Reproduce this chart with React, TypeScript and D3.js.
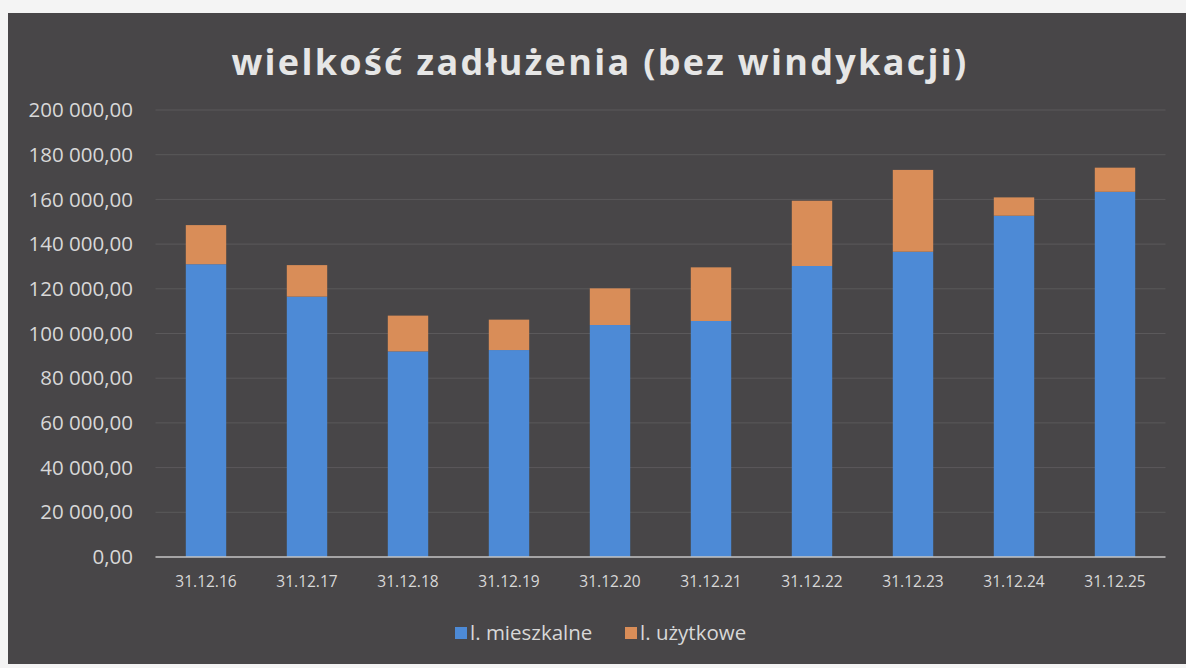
import React from "react";
import * as d3 from "d3";

const categories = ["31.12.16", "31.12.17", "31.12.18", "31.12.19", "31.12.20", "31.12.21", "31.12.22", "31.12.23", "31.12.24", "31.12.25"];
const mieszkalne = [131000, 116500, 92000, 92600, 103800, 105600, 130200, 136600, 152700, 163400];
const uzytkowe = [17500, 14100, 16000, 13600, 16400, 24000, 29200, 36600, 8200, 10800];
const yTicks = [0, 20000, 40000, 60000, 80000, 100000, 120000, 140000, 160000, 180000, 200000];
const seriesNames = ["l. mieszkalne", "l. użytkowe"];
const colors = ["#4d8ad6", "#d98d58"];

const W = 1186, H = 668;
const left = 155.5, right = 1165.5, top = 110, bottom = 557;

const fmt = (v: number) => {
  const s = Math.round(v).toString().replace(/\B(?=(\d{3})+(?!\d))/g, " ");
  return s + ",00";
};

export default function App() {
  const x = d3.scaleBand<string>().domain(categories).range([left, right]).paddingInner(0.6).paddingOuter(0.3);
  const y = d3.scaleLinear().domain([0, 200000]).range([bottom, top]);
  const font = "'Open Sans', sans-serif";
  const txt = "#d8d8d8";
  const legendX = [455, 625];
  return (
    <svg width={W} height={H} style={{ position: "absolute", left: 0, top: 0 }} fontFamily={font}>
      <rect x={0} y={0} width={W} height={H} fill="#f4f4f4" />
      <rect x={8} y={13} width={W - 8} height={651} fill="#484648" />
      <text x={600} y={75} textAnchor="middle" fill="#e6e6e6" fontSize={36} fontWeight="bold" letterSpacing={2.3}>
        wielkość zadłużenia (bez windykacji)
      </text>
      {yTicks.map((t) => (
        <g key={t}>
          {t > 0 && <line x1={left} x2={right} y1={y(t)} y2={y(t)} stroke="#5b595b" strokeWidth={1} />}
          <text x={133} y={y(t)} dy="0.35em" textAnchor="end" fill={txt} fontSize={20.5}>
            {fmt(t)}
          </text>
        </g>
      ))}
      {categories.map((c, i) => {
        const b = x(c)!;
        const w = x.bandwidth();
        const v1 = mieszkalne[i];
        const v2 = uzytkowe[i];
        return (
          <g key={c}>
            <rect x={b} width={w} y={y(v1)} height={y(0) - y(v1)} fill={colors[0]} />
            <rect x={b} width={w} y={y(v1 + v2)} height={y(v1) - y(v1 + v2)} fill={colors[1]} />
            <text x={b + w / 2} y={582} dy="0.35em" textAnchor="middle" fill={txt} fontSize={15.5}>
              {c}
            </text>
          </g>
        );
      })}
      <line x1={left} x2={right} y1={bottom} y2={bottom} stroke="#c4c4c4" strokeWidth={1.5} />
      {seriesNames.map((n, i) => {
        const lx = legendX[i];
        return (
          <g key={n}>
            <rect x={lx} y={627} width={12} height={12} fill={colors[i]} />
            <text x={lx + 15} y={633} dy="0.35em" fill={txt} fontSize={20.5}>
              {n}
            </text>
          </g>
        );
      })}
    </svg>
  );
}
